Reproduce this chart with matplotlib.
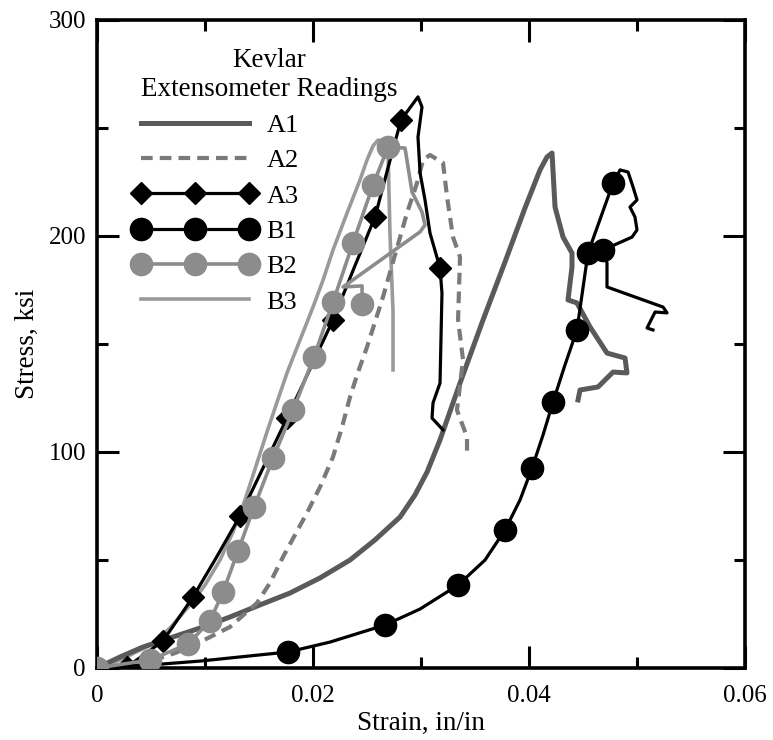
import numpy as np
import matplotlib.pyplot as plt
from matplotlib.ticker import MultipleLocator
from matplotlib.lines import Line2D
from matplotlib.legend_handler import HandlerLine2D

plt.rcParams['font.family'] = ['Liberation Serif', 'DejaVu Serif']

# strain (in/in) and stress (ksi)
a1_x = [0, 0.00213, 0.00426, 0.00676, 0.00954, 0.01231, 0.01509, 0.01787, 0.02065,
        0.02343, 0.02574, 0.02806, 0.02944, 0.03056, 0.03176, 0.03361, 0.03574,
        0.03778, 0.03963, 0.04102, 0.04167, 0.04213, 0.04241, 0.04315, 0.04398,
        0.04398, 0.04361, 0.04444, 0.04565, 0.04722, 0.04889, 0.04907, 0.04778,
        0.04639, 0.04472, 0.04454]
a1_y = [0, 5.1, 9.7, 13.9, 18.5, 23.6, 29.2, 34.7, 41.7, 50.0, 59.3, 69.9, 80.1,
        90.7, 105.6, 131.9, 161.1, 188.0, 213.0, 230.6, 236.6, 238.4, 213.4, 199.5,
        192.1, 185.6, 170.4, 169.0, 157.9, 145.8, 143.5, 136.6, 137.0, 130.1,
        128.7, 124.1]

a2_x = [0, 0.00259, 0.00491, 0.00722, 0.00954, 0.01231, 0.01481, 0.01602, 0.01722,
        0.01833, 0.01944, 0.02065, 0.02185, 0.02269, 0.02343, 0.02417, 0.0250,
        0.02648, 0.02759, 0.02870, 0.02963, 0.03019, 0.03083, 0.03204, 0.03241,
        0.03296, 0.03361, 0.03343, 0.03389, 0.03333, 0.03426, 0.03426]
a2_y = [0, 1.4, 3.2, 6.9, 12.0, 19.0, 30.1, 39.4, 51.4, 61.6, 71.8, 83.8, 97.7,
        111.6, 125.5, 137.0, 148.6, 171.8, 191.2, 210.6, 224.5, 235.2, 237.5, 233.8,
        218.1, 199.5, 190.3, 161.1, 142.6, 119.4, 106.9, 98.6]

a3_x = [0, 0.00278, 0.00611, 0.00889, 0.01102, 0.01324, 0.01537, 0.01759, 0.01972,
        0.02185, 0.02380, 0.02574, 0.02694, 0.02815, 0.02972, 0.03009, 0.02972,
        0.02991, 0.03037, 0.03083, 0.03176, 0.03194, 0.03176, 0.03111, 0.03102,
        0.03204]
a3_y = [0, 0.5, 12.5, 32.9, 50.9, 70.4, 92.6, 115.7, 138.4, 161.1, 185.2, 208.8,
        231.5, 253.7, 264.4, 259.7, 245.8, 229.2, 216.7, 201.4, 185.2, 173.6, 131.9,
        122.7, 115.7, 110.2]
a3_marks = [1, 2, 3, 5, 7, 9, 11, 13, 20]

b1_x = [0, 0.00491, 0.00954, 0.01417, 0.01769, 0.02157, 0.02667, 0.02991, 0.03343,
        0.03593, 0.03778, 0.03917, 0.04028, 0.04130, 0.04222, 0.04333, 0.04444,
        0.04546, 0.04778, 0.04843, 0.04917, 0.04963, 0.05000, 0.04935, 0.04981,
        0.05000, 0.04954, 0.04685, 0.04722, 0.04722, 0.05241, 0.05278, 0.05167,
        0.05093, 0.05148]
b1_y = [0, 1.4, 3.2, 5.6, 7.4, 12.0, 19.9, 27.3, 38.4, 50.0, 63.9, 77.8, 92.6,
        107.9, 123.1, 140.3, 156.5, 192.1, 224.5, 230.6, 229.6, 222.7, 216.7, 213.4,
        208.8, 202.8, 199.5, 193.5, 187.5, 176.4, 167.1, 164.4, 164.8, 157.4, 156.5]
b1_marks = [4, 6, 8, 10, 12, 14, 16, 17, 18, 27]

b2_x = [0, 0.00491, 0.00843, 0.01046, 0.01167, 0.01306, 0.01454, 0.01630, 0.01815,
        0.02009, 0.02185, 0.02370, 0.02556, 0.02694, 0.02852, 0.02917, 0.03009,
        0.03037, 0.02991, 0.02278, 0.02454, 0.02454]
b2_y = [0, 3.7, 11.1, 21.8, 35.2, 54.2, 74.5, 97.2, 119.4, 144.0, 169.4, 196.8,
        223.6, 241.2, 240.7, 220.4, 211.1, 205.1, 201.9, 176.4, 176.9, 168.5]
b2_marks = [0, 1, 2, 3, 4, 5, 6, 7, 8, 9, 10, 11, 12, 13, 21]

b3_x = [0, 0.00213, 0.00491, 0.00676, 0.00861, 0.0100, 0.01139, 0.01259, 0.01370,
        0.01472, 0.01574, 0.01667, 0.01759, 0.01880, 0.02000, 0.02093, 0.02185,
        0.02315, 0.02435, 0.0250, 0.02556, 0.02602, 0.02657, 0.02694, 0.02713,
        0.02741, 0.02741]
b3_y = [0, 3.7, 10.6, 18.5, 29.2, 38.4, 50.0, 63.0, 77.8, 93.5, 109.3, 123.1, 136.6,
        151.9, 167.1, 179.6, 193.5, 210.6, 225.9, 235.2, 241.7, 244.4, 244.0, 239.8,
        200.5, 164.8, 138.0]

fig = plt.figure(figsize=(7.73, 7.40), dpi=100)
ax = fig.add_axes([0.1255, 0.0973, 0.8383, 0.8757])

ax.plot(a1_x, a1_y, color='#5a5a5a', lw=3.6, label='A1', zorder=3)
ax.plot(a2_x, a2_y, color='#7a7a7a', lw=3.0, dashes=(2.8, 1.7), label='A2', zorder=3)
ax.plot(b3_x, b3_y, color='#9a9a9a', lw=2.6, label='B3', zorder=2)
ax.plot(a3_x, a3_y, color='black', lw=2.3, marker='D', ms=11, markevery=a3_marks,
        label='A3', zorder=4)
ax.plot(b1_x, b1_y, color='black', lw=2.3, marker='o', ms=16, markevery=b1_marks,
        label='B1', zorder=4)
ax.plot(b2_x, b2_y, color='#8c8c8c', lw=2.6, marker='o', ms=16, markevery=b2_marks,
        label='B2', zorder=5)

ax.set_xlim(0, 0.06)
ax.set_ylim(0, 300)
ax.xaxis.set_minor_locator(MultipleLocator(0.01))
ax.yaxis.set_major_locator(MultipleLocator(100))
ax.yaxis.set_minor_locator(MultipleLocator(50))
ax.set_xticks([0, 0.02, 0.04, 0.06])
ax.set_xticklabels(['0', '0.02', '0.04', '0.06'])
ax.tick_params(which='both', direction='in', top=True, right=True, labelsize=18,
               width=2.2, color='black')
ax.tick_params(which='major', length=16)
ax.tick_params(which='minor', length=8)
ax.tick_params(axis='x', which='major', pad=12)
ax.tick_params(axis='y', which='major', pad=8)
for s in ax.spines.values():
    s.set_linewidth(2.6)

ax.set_xlabel('Strain, in/in', fontsize=19.5, labelpad=3)
ax.set_ylabel('Stress, ksi', fontsize=19.5, labelpad=6)

handles, labels = ax.get_legend_handles_labels()
order = ['A1', 'A2', 'A3', 'B1', 'B2', 'B3']
hmap = dict(zip(labels, handles))
leg = ax.legend([hmap[k] for k in order], order, title='Kevlar\nExtensometer Readings',
                loc='upper left', bbox_to_anchor=(0.068, 0.957), frameon=False,
                fontsize=19, title_fontsize=19.5, numpoints=3, handlelength=4.1,
                handletextpad=0.65, labelspacing=0.45, borderpad=0, borderaxespad=0,
                alignment='left',
                handler_map={Line2D: HandlerLine2D(marker_pad=0)})
leg.get_title().set_multialignment('center')

fig.savefig('out.png', dpi=100)
